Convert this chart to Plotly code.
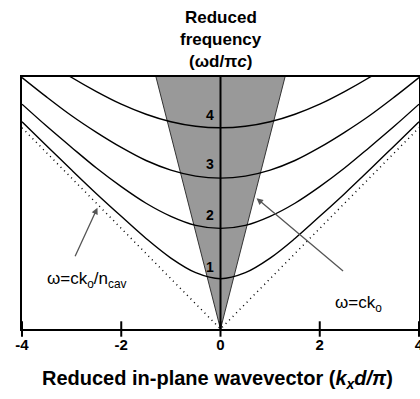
import plotly.graph_objects as go

# Reduced in-plane wavevector samples
k = [-4, -3.5, -3, -2.5, -2, -1.5, -1, -0.5, 0, 0.5, 1, 1.5, 2, 2.5, 3, 3.5, 4]
# Guided mode branches (reduced frequency)
mode1 = [4.12, 3.64, 3.16, 2.69, 2.24, 1.80, 1.41, 1.12, 1.00, 1.12, 1.41, 1.80, 2.24, 2.69, 3.16, 3.64, 4.12]
mode2 = [4.47, 4.03, 3.61, 3.20, 2.83, 2.50, 2.24, 2.06, 2.00, 2.06, 2.24, 2.50, 2.83, 3.20, 3.61, 4.03, 4.47]
mode3 = [5.00, 4.61, 4.24, 3.91, 3.61, 3.35, 3.16, 3.04, 3.00, 3.04, 3.16, 3.35, 3.61, 3.91, 4.24, 4.61, 5.00]
mode4 = [5.66, 5.32, 5.00, 4.72, 4.47, 4.27, 4.12, 4.03, 4.00, 4.03, 4.12, 4.27, 4.47, 4.72, 5.00, 5.32, 5.66]
modes = [mode1, mode2, mode3, mode4]
mode_labels = ["1", "2", "3", "4"]
mode_label_y = [1.23, 2.27, 3.28, 4.25]

# Light line (cone) and cavity light line
cone_x = [-1.30, 0, 1.30]
cone_y = [5.01, 0, 5.01]
cav_x = [-4, 0, 4]
cav_y = [4, 0, 4]

x_ticks = [-4, -2, 0, 2, 4]
x_range = [-4, 4]
y_range = [0, 5.01]

fig = go.Figure()

# gray light cone
fig.add_trace(go.Scatter(x=cone_x, y=cone_y, mode="lines", fill="toself",
                         fillcolor="#999999", line=dict(color="#333333", width=1),
                         hoverinfo="skip"))
# cavity light line (dotted)
fig.add_trace(go.Scatter(x=cav_x, y=cav_y, mode="lines",
                         line=dict(color="black", width=1.5, dash="1px,4px")))
# modes
for m in modes:
    fig.add_trace(go.Scatter(x=k, y=m, mode="lines", line=dict(color="black", width=1.4, shape="spline")))
# central vertical axis line
fig.add_trace(go.Scatter(x=[0, 0], y=y_range, mode="lines", line=dict(color="black", width=2)))
# crossing tick marks on the bottom axis
fig.add_trace(go.Scatter(x=x_ticks, y=[0] * len(x_ticks), mode="markers", cliponaxis=False,
                         marker=dict(symbol="line-ns-open", size=11, color="black",
                                     line=dict(color="black", width=2))))

fig.update_xaxes(range=x_range, tickvals=x_ticks, ticktext=[str(t) for t in x_ticks],
                 showgrid=False, zeroline=False, showline=True, linecolor="black", linewidth=2,
                 mirror=True, ticks="", ticklabelstandoff=1, ticklabeloverflow="allow",
                 automargin=False,
                 tickfont=dict(family="Liberation Sans, Arial", size=15, color="black", weight="bold"))
fig.update_yaxes(range=y_range, showgrid=False, zeroline=False, showline=True, linecolor="black",
                 linewidth=2, mirror=True, ticks="", showticklabels=False, automargin=False)

ann = []
for lab, yy in zip(mode_labels, mode_label_y):
    ann.append(dict(x=-0.22, y=yy, text="<b>%s</b>" % lab, showarrow=False, yanchor="middle",
                    font=dict(size=14, color="black")))
for txt, py in [("<b>Reduced</b>", 1.238), ("<b>frequency</b>", 1.149), ("<b>(ωd/π<i>c</i>)</b>", 1.060)]:
    ann.append(dict(x=0, xref="x", y=py, yref="paper", yanchor="middle", text=txt, showarrow=False,
                    font=dict(size=17, color="black")))
ann.append(dict(x=-0.06, xref="x", y=-0.2, yref="paper", yanchor="middle",
                text="<b>Reduced in-plane wavevector (<i>k<sub>x</sub>d/π</i>)</b>",
                showarrow=False, font=dict(size=20, color="black")))
ann.append(dict(x=-2.48, y=2.41, ax=-23, ay=50, text="", showarrow=True, arrowhead=2,
                arrowsize=1, arrowwidth=1.3, arrowcolor="#555555"))
ann.append(dict(x=-2.70, y=0.98, text="ω=ck<sub>o</sub>/n<sub>cav</sub>", showarrow=False,
                yanchor="middle", font=dict(size=17, color="black")))
ann.append(dict(x=0.727, y=2.60, ax=88, ay=74, text="", showarrow=True, arrowhead=2,
                arrowsize=1, arrowwidth=1.3, arrowcolor="#555555"))
ann.append(dict(x=2.78, y=0.50, text="ω=ck<sub>o</sub>", showarrow=False, yanchor="middle",
                font=dict(size=17, color="black")))

fig.update_layout(width=420, height=399, margin=dict(l=22, r=1, t=77, b=70),
                  plot_bgcolor="white", paper_bgcolor="white", showlegend=False,
                  font=dict(family="Liberation Sans, Arial", color="black"),
                  annotations=ann)

fig.write_html("out.html")
